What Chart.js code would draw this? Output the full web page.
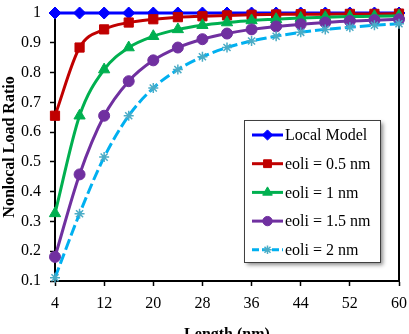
<!DOCTYPE html>
<html>
<head>
<meta charset="utf-8">
<script src="https://cdn.jsdelivr.net/npm/chart.js@4/dist/chart.umd.min.js"></script>
<style>
  html, body { margin: 0; padding: 0; background: #fff; overflow: hidden; }
  #wrap { width: 409px; height: 334px; overflow: hidden; }
</style>
</head>
<body>
<div id="wrap"><canvas id="chart" width="409" height="344"></canvas></div>
<script>
// Length (nm) on x, one point every 4 nm
const lengths = [4, 8, 12, 16, 20, 24, 28, 32, 36, 40, 44, 48, 52, 56, 60];
const xTicks = [4, 12, 20, 28, 36, 44, 52, 60];
const yTicks = [0.1, 0.2, 0.3, 0.4, 0.5, 0.6, 0.7, 0.8, 0.9, 1];

const seriesLabels = ['Local Model', 'eoli = 0.5 nm', 'eoli = 1 nm', 'eoli = 1.5 nm', 'eoli = 2 nm'];
const localModel = [1, 1, 1, 1, 1, 1, 1, 1, 1, 1, 1, 1, 1, 1, 1];
const eoli05 = [0.655, 0.884, 0.945, 0.968, 0.979, 0.986, 0.989, 0.992, 0.994, 0.995, 0.996, 0.996, 0.997, 0.997, 0.998];
const eoli1 = [0.327, 0.655, 0.810, 0.884, 0.922, 0.945, 0.959, 0.968, 0.975, 0.979, 0.983, 0.986, 0.988, 0.989, 0.991];
const eoli15 = [0.181, 0.458, 0.655, 0.771, 0.841, 0.884, 0.912, 0.931, 0.945, 0.955, 0.962, 0.968, 0.973, 0.976, 0.979];
const eoli2 = [0.111, 0.326, 0.516, 0.655, 0.748, 0.810, 0.853, 0.884, 0.906, 0.922, 0.935, 0.945, 0.952, 0.959, 0.964];

const FONT = "'Liberation Serif', 'Times New Roman', serif";
Chart.defaults.font.family = FONT;
Chart.defaults.font.size = 16;
Chart.defaults.color = '#000';

function pts(values) {
    return lengths.map((x, i) => ({ x: x, y: values[i] }));
}

function series(i, values, color, style, radius, extra) {
    return Object.assign({
        label: seriesLabels[i],
        data: pts(values),
        borderColor: color,
        backgroundColor: color,
        pointBackgroundColor: color,
        pointBorderColor: color,
        borderWidth: 3,
        pointStyle: style,
        pointRadius: radius,
        pointHoverRadius: radius,
        pointBorderWidth: 1,
        cubicInterpolationMode: 'monotone',
        clip: false,
        order: 4 - i
    }, extra || {});
}

const datasets = [
    series(0, localModel, '#0000ff', 'rectRot', 6),
    series(1, eoli05, '#c00000', 'rect', 6.5),
    series(2, eoli1, '#00b050', 'triangle', 6.5),
    series(3, eoli15, '#7030a0', 'circle', 5.5),
    series(4, eoli2, '#00b0f0', 'star', 5, {
        borderDash: [11, 4],
        pointBorderColor: '#4bacc6',
        pointBackgroundColor: '#4bacc6',
        pointBorderWidth: 1.5
    })
];

// plot frame on top and right side
const frame = {
    id: 'frame',
    beforeDatasetsDraw(chart) {
        const { ctx, chartArea: a } = chart;
        ctx.save();
        ctx.strokeStyle = '#000';
        ctx.lineWidth = 2;
        ctx.beginPath();
        ctx.moveTo(a.left, a.top);
        ctx.lineTo(a.right, a.top);
        ctx.lineTo(a.right, a.bottom);
        ctx.stroke();
        ctx.restore();
    }
};

// boxed legend inside the plot
const boxLegend = {
    id: 'boxLegend',
    afterDraw(chart) {
        const ctx = chart.ctx;
        const bx = 244, by = 120, bw = 136, bh = 142;
        ctx.save();
        ctx.shadowColor = 'rgba(0,0,0,0.45)';
        ctx.shadowBlur = 4;
        ctx.shadowOffsetX = 3;
        ctx.shadowOffsetY = 3;
        ctx.fillStyle = '#fff';
        ctx.fillRect(bx, by, bw, bh);
        ctx.restore();
        ctx.save();
        ctx.strokeStyle = '#404040';
        ctx.lineWidth = 1;
        ctx.strokeRect(bx + 0.5, by + 0.5, bw, bh);
        chart.data.datasets.forEach((ds, i) => {
            const y = 135 + i * 28.7;
            ctx.strokeStyle = ds.borderColor;
            ctx.lineWidth = 3;
            ctx.setLineDash(ds.borderDash ? [7, 3] : []);
            ctx.beginPath();
            ctx.moveTo(252, y);
            ctx.lineTo(283, y);
            ctx.stroke();
            ctx.setLineDash([]);
            ctx.fillStyle = ds.pointBackgroundColor;
            ctx.strokeStyle = ds.pointBorderColor;
            ctx.lineWidth = ds.pointBorderWidth;
            if (Chart.helpers && Chart.helpers.drawPoint) {
                Chart.helpers.drawPoint(ctx, {
                    pointStyle: ds.pointStyle,
                    radius: ds.pointRadius * 0.85,
                    rotation: 0,
                    borderWidth: ds.pointBorderWidth
                }, 267.5, y);
            }
            ctx.fillStyle = '#000';
            ctx.font = '16px ' + FONT;
            ctx.textBaseline = 'middle';
            ctx.textAlign = 'left';
            ctx.fillText(ds.label, 285, y + 1);
        });
        ctx.restore();
    }
};

new Chart(document.getElementById('chart'), {
    type: 'line',
    data: { datasets: datasets },
    options: {
        responsive: false,
        animation: false,
        events: [],
        layout: { padding: { top: 13, right: 10, left: 0, bottom: 0 } },
        plugins: {
            legend: { display: false },
            tooltip: { enabled: false }
        },
        scales: {
            x: {
                type: 'linear',
                min: 4,
                max: 60,
                afterBuildTicks: (scale) => { scale.ticks = xTicks.map(v => ({ value: v })); },
                afterFit: (scale) => {
                    scale.height = 63;
                    scale.paddingLeft = 0;
                    scale.paddingRight = 0;
                },
                grid: { drawOnChartArea: false, tickLength: 5, tickWidth: 1.5, tickColor: '#000' },
                border: { color: '#000', width: 2 },
                ticks: { padding: 8, maxRotation: 0, autoSkip: false, font: { size: 16 } },
                title: {
                    display: true,
                    text: 'Length (nm)',
                    font: { size: 16, weight: 'bold' },
                    padding: { top: 4, bottom: 0 }
                }
            },
            y: {
                min: 0.1,
                max: 1,
                afterBuildTicks: (scale) => { scale.ticks = yTicks.map(v => ({ value: v })); },
                afterFit: (scale) => {
                    scale.width = 55;
                    scale.paddingTop = 0;
                    scale.paddingBottom = 0;
                },
                grid: { drawOnChartArea: false, tickLength: 5, tickWidth: 1.5, tickColor: '#000' },
                border: { color: '#000', width: 2 },
                ticks: {
                    padding: 9,
                    autoSkip: false,
                    font: { size: 16 },
                    callback: (v) => String(Math.round(v * 10) / 10)
                },
                title: {
                    display: true,
                    text: 'Nonlocal Load Ratio',
                    font: { size: 16, weight: 'bold' },
                    padding: { top: 0, bottom: 0 }
                }
            }
        }
    },
    plugins: [frame, boxLegend]
});
</script>
</body>
</html>
